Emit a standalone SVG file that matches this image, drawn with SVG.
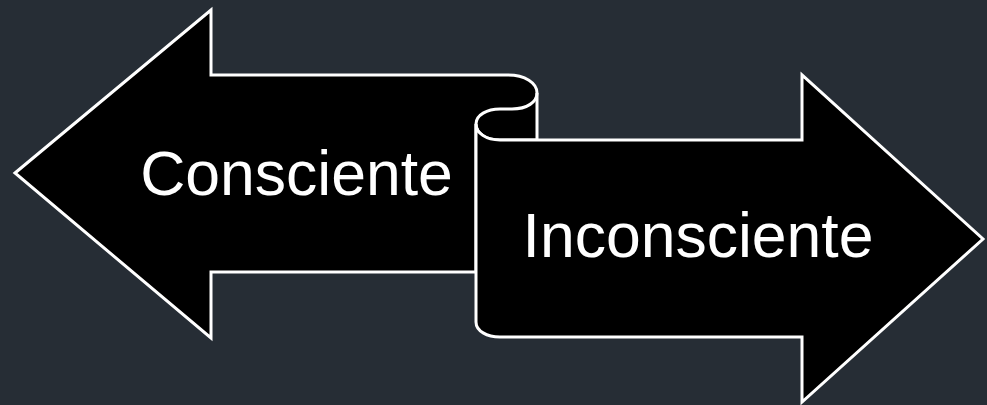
<svg xmlns="http://www.w3.org/2000/svg" width="987" height="405" viewBox="0 0 987 405">
  <style>
    .shape { fill: #000000; stroke: #ffffff; stroke-width: 3; stroke-linejoin: miter; }
    .line { fill: none; stroke: #ffffff; stroke-width: 3; }
    .label { fill: #ffffff; font-family: "Liberation Sans", Arial, sans-serif; font-size: 62.5px; text-anchor: middle; }
  </style>
  <rect x="0" y="0" width="987" height="405" fill="#262d35"/>
  <g id="left-arrow">
    <path class="shape" d="M15,173 L211,10 L211,75 L508,75 C525,75 537,83 537,93 L537,140 L500,140 C486,140 476,133 476,124 L476,272 L211,272 L211,338 Z"/>
    <text class="label" x="296.5" y="195">Consciente</text>
  </g>
  <g id="right-arrow">
    <path class="shape" d="M500,140 C486,140 476,133 476,124 L476,322 C476,331 487,337 500,337 L802,337 L802,402 L983,239 L802,75 L802,140 Z"/>
    <path class="line" d="M476,124 C476,115 487,109 500,109 L512,109 C527,109 537,102 537,93"/>
    <text class="label" x="698" y="257">Inconsciente</text>
  </g>
</svg>
